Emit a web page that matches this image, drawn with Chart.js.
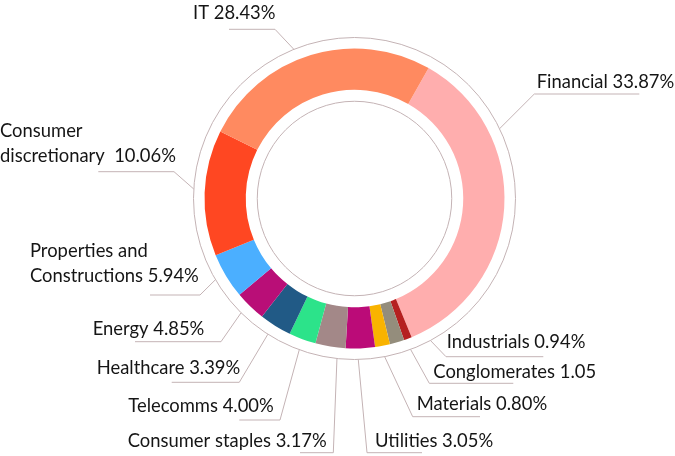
<!DOCTYPE html>
<html>
<head>
<meta charset="utf-8">
<script src="https://cdn.jsdelivr.net/npm/chart.js@4"></script>
<style>
  html, body { margin: 0; padding: 0; background: #ffffff; }
  #wrap { width: 675px; height: 456px; }
</style>
</head>
<body>
<div id="wrap"><canvas id="sector-chart" width="675" height="456"></canvas></div>
<script>
// Sectors in drawing order (clockwise, starting from the top right)
const sectors = [
    'Financial', 'Industrials', 'Conglomerates', 'Materials', 'Utilities',
    'Consumer staples', 'Telecomms', 'Healthcare', 'Energy',
    'Properties and Constructions', 'Consumer discretionary', 'IT'
];

// Share of the ring each slice covers
const sliceShares = [35.58, 0.86, 1.56, 1.61, 3.14, 3.25, 2.92, 3.47, 3.33, 4.92, 13.56, 25.86];

// Label texts exactly as printed beside the ring
const labelTexts = [
    ['Financial 33.87%'],
    ['Industrials 0.94%'],
    ['Conglomerates 1.05'],
    ['Materials 0.80%'],
    ['Utilities 3.05%'],
    ['Consumer staples 3.17%'],
    ['Telecomms 4.00%'],
    ['Healthcare 3.39%'],
    ['Energy 4.85%'],
    ['Properties and', 'Constructions 5.94%'],
    ['Consumer', 'discretionary  10.06%'],
    ['IT 28.43%']
];

const sliceColors = [
    '#ffaeae', '#b52020', '#948d7c', '#f9b300', '#bb0b78', '#a38888',
    '#2ce38a', '#215a86', '#b90e77', '#4bafff', '#ff4722', '#ff8a60'
];

// Where each callout goes: angle nudge from the slice middle (deg),
// elbow of the leader line, far end of the shelf, text origin
const calloutLayout = [
    { shift: -29.3, elbow: [534.3, 94],    shelf: 639.3, text: [536.7, 88.3] },
    { shift: -7.3,  elbow: [446, 356.7],   shelf: 543.3, text: [446.7, 348.3] },
    { shift: -3.9,  elbow: [429.3, 383.3], shelf: 513.3, text: [433.3, 378.3] },
    { shift: 0,     elbow: [412.7, 416.7], shelf: 480,   text: [416.7, 410] },
    { shift: 0.9,   elbow: [367, 452.7],   shelf: 422,   text: [375, 446.7] },
    { shift: -3,    elbow: [333.3, 452.7], shelf: 300,   text: [127.7, 446.7] },
    { shift: -0.3,  elbow: [280, 420],     shelf: 239.3, text: [128.3, 411.7] },
    { shift: 0.7,   elbow: [239.3, 382.3], shelf: 171.7, text: [96.7, 374] },
    { shift: 0.7,   elbow: [221, 341.7],   shelf: 135,   text: [92.7, 335] },
    { shift: 0.8,   elbow: [200, 295],     shelf: 150,   text: [30, 256.7] },
    { shift: 1.2,   elbow: [174, 171.7],   shelf: 98.3,  text: [0, 136.7] },
    { shift: -5.2,  elbow: [275, 29.3],    shelf: 229,   text: [193, 19] }
];

const GUIDE_COLOR = '#c4b3b5';
const TEXT_COLOR = '#151515';
const LABEL_FONT = '18.4px "Source Sans Pro", Lato, sans-serif';
const LINE_GAP = 25;

/**
 * Thin guide rings just outside and inside the doughnut
 */
const guideRingsPlugin = {
    id: 'guideRings',
    afterDatasetsDraw(chart) {
        const arc = chart.getDatasetMeta(0).data[0];
        if (!arc) return;
        const { ctx } = chart;
        const { x, y, innerRadius, outerRadius } = arc.getProps(['x', 'y', 'innerRadius', 'outerRadius'], true);

        ctx.save();
        ctx.strokeStyle = GUIDE_COLOR;
        ctx.lineWidth = 1;
        [outerRadius + 11, innerRadius - 11.5].forEach(r => {
            ctx.beginPath();
            ctx.arc(x, y, r, 0, Math.PI * 2);
            ctx.stroke();
        });
        ctx.restore();
    }
};

/**
 * Callout labels with elbowed leader lines
 */
const calloutPlugin = {
    id: 'callouts',
    afterDraw(chart) {
        const { ctx } = chart;
        const arcs = chart.getDatasetMeta(0).data;

        ctx.save();
        ctx.font = LABEL_FONT;
        ctx.textAlign = 'left';
        ctx.textBaseline = 'alphabetic';

        arcs.forEach((arc, i) => {
            const p = arc.getProps(['x', 'y', 'startAngle', 'endAngle', 'outerRadius'], true);
            const lay = calloutLayout[i];
            const a = (p.startAngle + p.endAngle) / 2 + lay.shift * Math.PI / 180;
            const r = p.outerRadius + 11;
            const ax = p.x + Math.cos(a) * r;
            const ay = p.y + Math.sin(a) * r;

            ctx.strokeStyle = GUIDE_COLOR;
            ctx.lineWidth = 1;
            ctx.beginPath();
            ctx.moveTo(ax, ay);
            ctx.lineTo(lay.elbow[0], lay.elbow[1]);
            ctx.lineTo(lay.shelf, lay.elbow[1]);
            ctx.stroke();

            ctx.fillStyle = TEXT_COLOR;
            labelTexts[i].forEach((line, k) => {
                ctx.fillText(line, lay.text[0], lay.text[1] + k * LINE_GAP);
            });
        });
        ctx.restore();
    }
};

new Chart(document.getElementById('sector-chart'), {
    type: 'doughnut',
    data: {
        labels: sectors,
        datasets: [{
            data: sliceShares,
            backgroundColor: sliceColors,
            borderWidth: 0,
            hoverOffset: 0
        }]
    },
    plugins: [guideRingsPlugin, calloutPlugin],
    options: {
        responsive: false,
        animation: false,
        cutout: '72.5%',
        rotation: 29.6,
        layout: { padding: { left: 204.5, right: 170.5, top: 48.5, bottom: 107.5 } },
        plugins: {
            legend: { display: false },
            tooltip: { enabled: false }
        }
    }
});
</script>
</body>
</html>
